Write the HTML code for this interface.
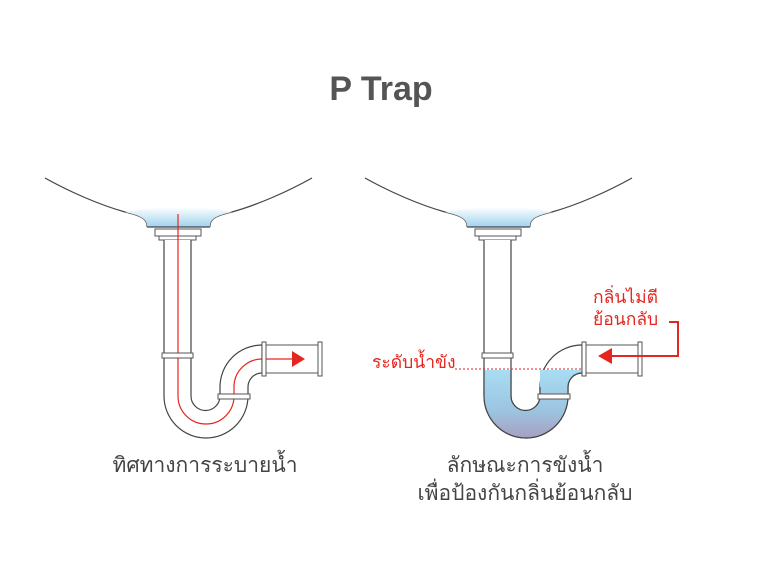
<!DOCTYPE html>
<html><head><meta charset="utf-8"><style>
body{margin:0;background:#fff;width:759px;height:569px;overflow:hidden}
svg{display:block}
text{font-family:"Liberation Sans","Noto Sans CJK SC",sans-serif}
</style></head><body>
<svg width="759" height="569" viewBox="0 0 759 569">
<defs>
<linearGradient id="sk" x1="0" y1="0" x2="0" y2="1"><stop offset="0" stop-color="#fff"/><stop offset="1" stop-color="#9fd3ee"/></linearGradient>
<linearGradient id="wt" x1="0" y1="0" x2="0" y2="1"><stop offset="0" stop-color="#a8ddf3"/><stop offset="0.6" stop-color="#9cc4e0"/><stop offset="1" stop-color="#a89fc2"/></linearGradient>
<g id="base">
<path d="M147,227 C148,218 138,215 125,212 C100,205 70,192 45,178" fill="none" stroke="#444" stroke-width="1.2"/>
<path d="M210,227 C209,218 219,215 232,212 C257,205 287,192 312,178" fill="none" stroke="#444" stroke-width="1.2"/>
<path d="M147,227 C148,218 138,215 125,212 Q178,202 232,212 C219,215 209,218 210,227 Z" fill="url(#sk)"/>
<line x1="147" y1="227" x2="210" y2="227" stroke="#444" stroke-width="1.2"/>
<rect x="155" y="229" width="46" height="7" fill="#fff" stroke="#555"/>
<rect x="159" y="236" width="37" height="4" fill="#fff" stroke="#555"/>
<path d="M164,240 V396 A42,42 0 0 0 248,396 V387 A14,14 0 0 1 262,373 V345 A42,42 0 0 0 220,387 V396 A14.5,14.5 0 0 1 191,396 V240" fill="#fff" stroke="#444" stroke-width="1.2"/>
<line x1="262" y1="345" x2="320" y2="345" stroke="#555"/>
<line x1="262" y1="373" x2="320" y2="373" stroke="#555"/>
</g>
<g id="fit">
<rect x="162" y="353" width="31" height="5" fill="#fff" stroke="#555"/>
<rect x="218" y="394" width="32" height="5" fill="#fff" stroke="#555"/>
<rect x="262" y="342" width="4" height="34" fill="#fff" stroke="#555"/>
<rect x="318" y="342" width="4" height="34" fill="#fff" stroke="#555"/>
</g>
</defs>
<text x="381" y="100" text-anchor="middle" font-size="34" font-weight="bold" fill="#555">P Trap</text>

<use href="#base"/>
<path d="M178,214 V396 A28,28 0 0 0 234,396 V387 A28,28 0 0 1 262,359 H292" fill="none" stroke="#e52620" stroke-width="1.2"/>
<use href="#fit"/>
<path d="M292,351 L305,359 L292,367 Z" fill="#e52620"/>
<text x="205" y="472" text-anchor="middle" font-size="21" fill="#444">ทิศทางการระบายน้ำ</text>

<g transform="translate(320,0)">
<use href="#base"/>
<path d="M164,370 V396 A42,42 0 0 0 248,396 V387 A14,14 0 0 1 262,373 V370 H220 V396 A14.5,14.5 0 0 1 191,396 V370 Z" fill="url(#wt)" stroke="none"/>
<path d="M164,370 V396 A42,42 0 0 0 248,396 V387 A14,14 0 0 1 262,373" fill="none" stroke="#444" stroke-width="1.2"/>
<path d="M220,387 V396 A14.5,14.5 0 0 1 191,396 V370" fill="none" stroke="#444" stroke-width="1.2"/>
<use href="#fit"/>
</g>
<line x1="455" y1="369" x2="582" y2="369" stroke="#e52620" stroke-dasharray="2,2"/>
<text x="372" y="368" font-size="17.5" fill="#e52620">ระดับน้ำขัง</text>
<text x="593" y="303" font-size="17.5" fill="#e52620">กลิ่นไม่ตี</text>
<text x="593" y="325" font-size="17.5" fill="#e52620">ย้อนกลับ</text>
<path d="M669,322 H678 V356 H612" fill="none" stroke="#e52620" stroke-width="2"/>
<path d="M612,348 L598,356 L612,364 Z" fill="#e52620"/>
<text x="525" y="472" text-anchor="middle" font-size="21" fill="#444">ลักษณะการขังน้ำ</text>
<text x="525" y="500" text-anchor="middle" font-size="21" fill="#444">เพื่อป้องกันกลิ่นย้อนกลับ</text>
</svg>
</body></html>
